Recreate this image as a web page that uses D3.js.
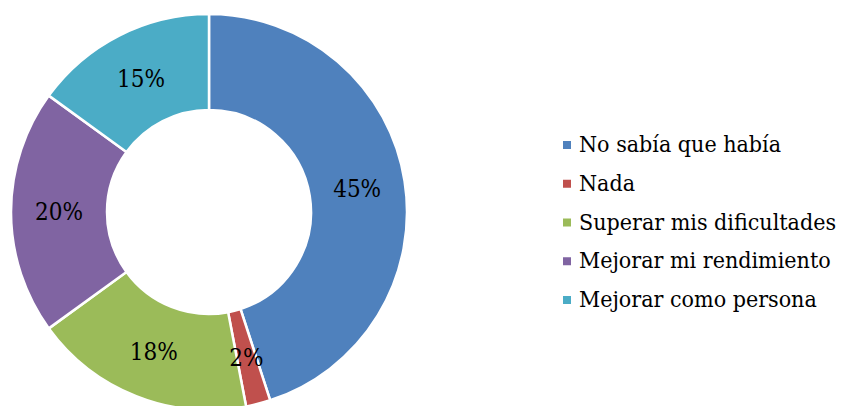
<!DOCTYPE html>
<html>
<head>
<meta charset="utf-8">
<script src="https://cdn.jsdelivr.net/npm/d3@7"></script>
<style>
  body { margin: 0; background: #fff; }
</style>
</head>
<body>
<div id="chart"></div>
<script>
// Categories and values
const categories = ['No sabía que había', 'Nada', 'Superar mis dificultades', 'Mejorar mi rendimiento', 'Mejorar como persona'];
const values = [45, 2, 18, 20, 15];
const colors = ['#4F81BD', '#C0504D', '#9BBB59', '#8064A2', '#4BACC6'];

const w = 842;
const h = 406;
const serif = "'DejaVu Serif Condensed', 'DejaVu Serif', serif";

// donut geometry
const cx = 209;
const cy = 212;
const outerR = 198;
const innerR = 102;

const svg = d3.select('#chart')
    .append('svg')
    .attr('width', w)
    .attr('height', h);

const data = categories.map((c, i) => ({name: c, value: values[i]}));

const pie = d3.pie()
    .sort(null)
    .value((d) => d.value);

const arc = d3.arc()
    .innerRadius(innerR)
    .outerRadius(outerR);

const color = d3.scaleOrdinal()
    .domain(categories)
    .range(colors);

const g = svg.append('g')
    .attr('transform', 'translate(' + cx + ',' + cy + ')');

const arcs = pie(data);

// slices
g.selectAll('path')
    .data(arcs)
    .enter()
    .append('path')
    .attr('d', arc)
    .attr('fill', (d) => color(d.data.name))
    .attr('stroke', '#fff')
    .attr('stroke-width', 2.5);

// percent labels
g.selectAll('text.label')
    .data(arcs)
    .enter()
    .append('text')
    .attr('class', 'label')
    .attr('x', (d) => arc.centroid(d)[0])
    .attr('y', (d) => arc.centroid(d)[1])
    .attr('text-anchor', 'middle')
    .attr('dy', '0.35em')
    .style('font-family', serif)
    .attr('font-size', 24)
    .attr('fill', '#000')
    .text((d) => d.data.value + '%');

// legend
const legendY = d3.scalePoint()
    .domain(categories)
    .range([152, 307]);

const legend = svg.append('g');

const item = legend.selectAll('g')
    .data(categories)
    .enter()
    .append('g')
    .attr('transform', (d) => 'translate(563,' + legendY(d) + ')');

item.append('rect')
    .attr('x', 0)
    .attr('y', -11)
    .attr('width', 8)
    .attr('height', 8)
    .attr('fill', (d) => color(d));

item.append('text')
    .attr('x', 16)
    .attr('y', 0)
    .style('font-family', serif)
    .attr('font-size', 23)
    .attr('fill', '#000')
    .text((d) => d);
</script>
</body>
</html>
